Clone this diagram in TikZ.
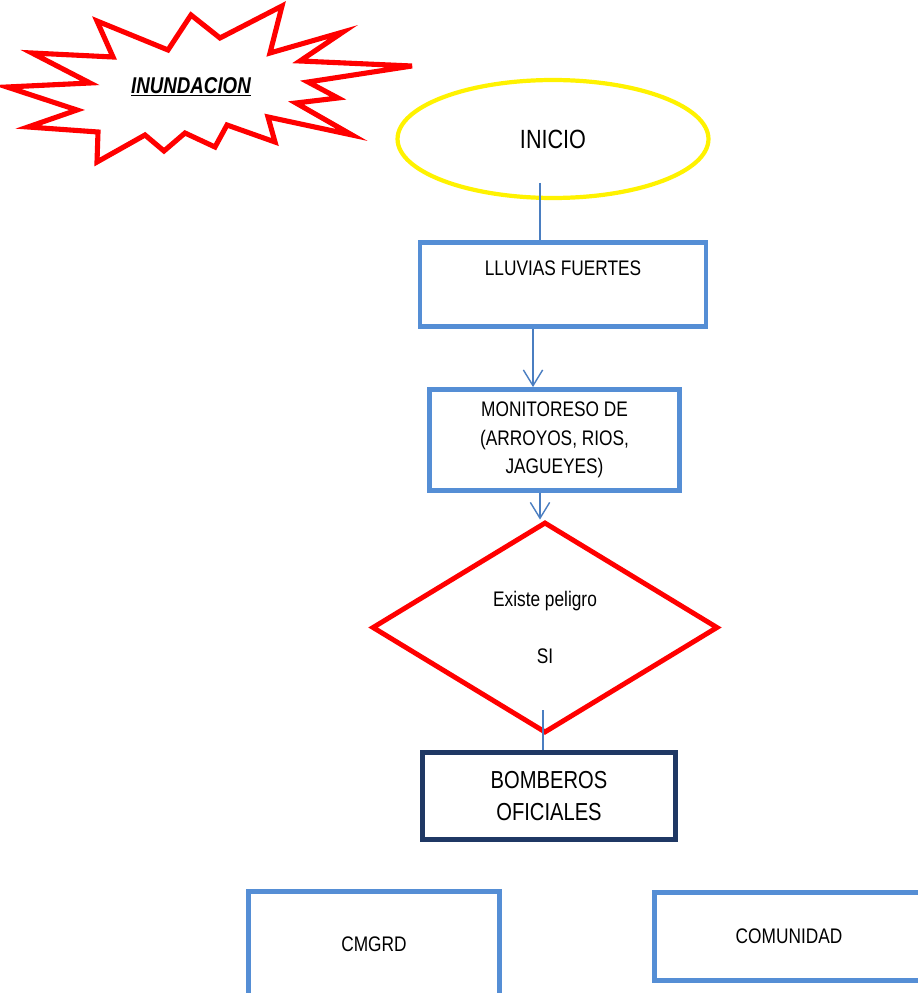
\documentclass[tikz,border=0pt]{standalone}
\usepackage{fontspec}
\setmainfont{Liberation Sans}[FakeStretch=0.82]
\usepackage{tikz}
\usetikzlibrary{shapes, arrows.meta, positioning, calc}
\definecolor{boxblue}{RGB}{85,142,213}
\definecolor{lineblue}{RGB}{74,126,193}
\definecolor{navy}{RGB}{31,56,100}
\tikzset{
    start/.style={ellipse, draw=yellow, line width=2.4pt, minimum width=6.22cm, minimum height=2.36cm, font=\fontsize{15}{18}\selectfont},
    box/.style={rectangle, draw=boxblue, line width=2.8pt, align=center, font=\fontsize{12}{14.4}\selectfont},
    decision/.style={diamond, draw=red, line width=2.8pt, align=center, inner sep=0pt, font=\fontsize{12}{14.4}\selectfont},
    link/.style={draw=lineblue, line width=0.8pt},
    arrow/.style={link, -{Straight Barb[length=9pt, width=11pt, line width=0.8pt]}}
}
\begin{document}
\begin{tikzpicture}[x=0.02cm, y=-0.02cm]
    \useasboundingbox (0,0) rectangle (917,993);

    \draw[red, line width=2.9pt, fill=white] (7,87) -- (90,83) -- (32,53) -- (113,57) -- (97,21) -- (168,50)
        -- (191,15) -- (220,38) -- (282,6) -- (270,53) -- (343,32) -- (300,61) -- (412,66) -- (308,82)
        -- (338,98) -- (296,103) -- (352,135) -- (268,117) -- (275,142) -- (227,125) -- (215,147)
        -- (185,133) -- (164,151) -- (145,135) -- (97,162) -- (98,132) -- (28,127) -- (77,110) -- cycle;
    \node[font=\fontsize{13}{15}\selectfont\bfseries\itshape] (inundacion) at (191,87) {\underline{INUNDACION}};

    \node[start] (inicio) at (553,139) {INICIO};
    \node[box, minimum width=5.72cm, minimum height=1.68cm] (lluvias) at (563,284.5) {LLUVIAS FUERTES\\[4.4pt]\mbox{}};
    \node[box, minimum width=5cm, minimum height=2.02cm] (monitoreo) at (554.5,440) {MONITORESO DE\\[2pt](ARROYOS, RIOS,\\[2pt]JAGUEYES)};
    \node[decision, minimum width=6.92cm, minimum height=4.22cm] (peligro) at (545,627.5) {Existe peligro\\[18.5pt]SI};
    \node[box, draw=navy, minimum width=5.06cm, minimum height=1.74cm, font=\fontsize{14}{16.8}\selectfont] (bomberos) at (549,796) {BOMBEROS\\[1.2pt]OFICIALES};
    \node[box, minimum width=5.02cm, minimum height=2.1cm] (cmgrd) at (374,944) {CMGRD};
    \node[box, minimum width=5.8cm, minimum height=1.76cm] (comunidad) at (799.5,936.5) {COMUNIDAD\hspace*{0.42cm}};

    \coordinate (inicio-foot) at (540,183);
    \coordinate (si-foot) at (543,710);
    \draw[link] (inicio-foot) -- (inicio-foot |- lluvias.north);
    \draw[arrow] ([xshift=-0.6cm]lluvias.south) -- ([xshift=-0.6cm]lluvias.south |- monitoreo.north);
    \draw[arrow] ([xshift=-0.29cm]monitoreo.south) -- ([xshift=-0.29cm]monitoreo.south |- peligro.north);
    \draw[link] (si-foot) -- (si-foot |- bomberos.north);
\end{tikzpicture}
\end{document}
